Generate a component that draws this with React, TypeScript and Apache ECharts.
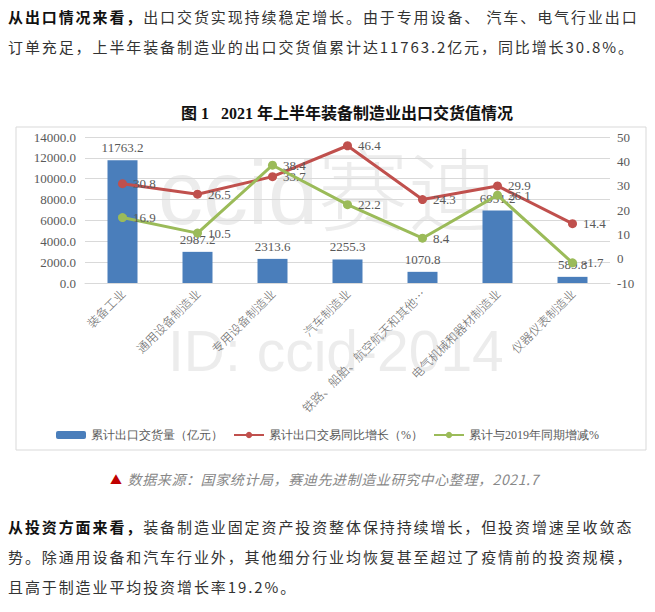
import React, { useEffect, useRef } from "react";
import * as echarts from "echarts";

const categories = [
  "装备工业",
  "通用设备制造业",
  "专用设备制造业",
  "汽车制造业",
  "铁路、船舶、航空航天和其他…",
  "电气机械和器材制造业",
  "仪器仪表制造业",
];
const exportValue = [11763.2, 2987.2, 2313.6, 2255.3, 1070.8, 6951.2, 589.8];
const yoyGrowth = [30.8, 26.5, 33.7, 46.4, 24.3, 29.9, 14.4];
const vs2019 = [16.9, 10.5, 38.4, 22.2, 8.4, 26.1, -1.7];
const seriesNames = ["累计出口交货量（亿元）", "累计出口交易同比增长（%）", "累计与2019年同期增减%"];

const numFont = "'Liberation Serif', 'DejaVu Serif', serif";
const cjkFont = "'Noto Sans CJK SC', 'Noto Sans', sans-serif";

export default function App() {
  const ref = useRef<HTMLDivElement>(null);
  useEffect(() => {
    if (!ref.current) return;
    const chart = echarts.init(ref.current, undefined, { renderer: "svg" });
    const labelStyle = { color: "#595959", fontSize: 13, fontFamily: numFont };
    chart.setOption({
      animation: false,
      backgroundColor: "transparent",
      grid: { left: 85, right: 45, top: 137, bottom: 329, containLabel: false },
      graphic: [
        {
          type: "rect",
          shape: { x: 16, y: 127, width: 630, height: 323 },
          style: { fill: "none", stroke: "#d9d9d9", lineWidth: 1 },
          silent: true,
        },
        {
          type: "text",
          x: 347,
          y: 113,
          style: {
            text: "图 1   2021 年上半年装备制造业出口交货值情况",
            fontSize: 16,
            fontWeight: "bold",
            fontFamily: "'Liberation Serif', 'Noto Sans CJK SC', serif",
            fill: "#111",
            align: "center",
            verticalAlign: "middle",
          },
        },
        {
          type: "text",
          x: 158,
          y: 193,
          z: -1,
          style: {
            text: "ccid赛迪",
            fontSize: 90,
            fontWeight: 300,
            fontFamily: "'Liberation Sans', 'Noto Sans CJK SC', sans-serif",
            fill: "rgba(160,160,160,0.2)",
            align: "left",
            verticalAlign: "middle",
          },
          silent: true,
        },
        {
          type: "text",
          x: 168,
          y: 351,
          z: -1,
          style: {
            text: "ID: ccid-2014",
            fontSize: 57,
            fontWeight: 300,
            fontFamily: "'Liberation Sans', sans-serif",
            fill: "rgba(160,160,160,0.2)",
            align: "left",
            verticalAlign: "middle",
          },
          silent: true,
        },
      ],
      legend: {
        data: seriesNames,
        left: "center",
        top: 424,
        itemWidth: 30,
        itemHeight: 8,
        itemGap: 10,
        textStyle: { color: "#595959", fontSize: 12, fontFamily: numFont },
      },
      xAxis: {
        type: "category",
        data: categories,
        axisLine: { lineStyle: { color: "#d9d9d9" } },
        axisTick: { show: false },
        axisLabel: {
          rotate: 45,
          interval: 0,
          margin: 8,
          color: "#666",
          fontSize: 12,
          fontWeight: 300,
          fontFamily: cjkFont,
        },
      },
      yAxis: [
        {
          type: "value",
          min: 0,
          max: 14000,
          interval: 2000,
          axisLine: { show: false },
          axisTick: { show: false },
          splitLine: { lineStyle: { color: "#d9d9d9" } },
          axisLabel: {
            margin: 9,
            color: "#595959",
            fontSize: 13,
            fontFamily: numFont,
            formatter: (v: number) => v.toFixed(1),
          },
        },
        {
          type: "value",
          min: -10,
          max: 50,
          interval: 10,
          axisLine: { show: false },
          axisTick: { show: false },
          splitLine: { show: false },
          axisLabel: { margin: 7, color: "#595959", fontSize: 13, fontFamily: numFont },
        },
      ],
      series: [
        {
          name: seriesNames[0],
          type: "bar",
          data: exportValue,
          barWidth: 30,
          itemStyle: { color: "#4a7ebb" },
          label: { show: true, position: "top", distance: 6, ...labelStyle },
          z: 2,
        },
        {
          name: seriesNames[1],
          type: "line",
          yAxisIndex: 1,
          data: yoyGrowth,
          symbol: "circle",
          symbolSize: 9,
          lineStyle: { color: "#c0504d", width: 3 },
          itemStyle: { color: "#c0504d" },
          label: { show: true, position: "right", distance: 6, ...labelStyle },
          z: 3,
        },
        {
          name: seriesNames[2],
          type: "line",
          yAxisIndex: 1,
          data: vs2019,
          symbol: "circle",
          symbolSize: 9,
          lineStyle: { color: "#9bbb59", width: 3 },
          itemStyle: { color: "#9bbb59" },
          label: { show: true, position: "right", distance: 6, ...labelStyle },
          z: 4,
        },
      ],
    });
    return () => chart.dispose();
  }, []);

  const pStyle: React.CSSProperties = {
    position: "absolute",
    left: 8,
    margin: 0,
    whiteSpace: "nowrap",
    fontFamily: cjkFont,
    fontSize: 15,
    letterSpacing: "1.9px",
    color: "#333",
    lineHeight: "20px",
  };
  const b: React.CSSProperties = { fontWeight: "bold", color: "#111" };

  return (
    <div style={{ position: "absolute", left: 0, top: 0, width: 655, height: 612, background: "#fff", overflow: "hidden" }}>
      <div ref={ref} style={{ position: "absolute", left: 0, top: 0, width: 655, height: 612 }} />
      <p style={{ ...pStyle, top: 7 }}>
        <span style={b}>从出口情况来看，</span>出口交货实现持续稳定增长。由于专用设备、 汽车、电气行业出口
      </p>
      <p style={{ ...pStyle, top: 37 }}>订单充足，上半年装备制造业的出口交货值累计达11763.2亿元，同比增长30.8%。</p>
      <p
        style={{
          position: "absolute",
          left: 110,
          top: 469,
          margin: 0,
          whiteSpace: "nowrap",
          fontFamily: cjkFont,
          fontSize: 14,
          letterSpacing: "0.6px",
          lineHeight: "20px",
          color: "#888",
        }}
      >
        <span style={{ color: "#c00000", fontSize: 12, marginRight: 5 }}>▲</span>
        <span style={{ fontStyle: "italic" }}>数据来源：国家统计局，赛迪先进制造业研究中心整理，2021.7</span>
      </p>
      <p style={{ ...pStyle, top: 517 }}>
        <span style={b}>从投资方面来看，</span>装备制造业固定资产投资整体保持持续增长，但投资增速呈收敛态
      </p>
      <p style={{ ...pStyle, top: 547 }}>势。除通用设备和汽车行业外，其他细分行业均恢复甚至超过了疫情前的投资规模，</p>
      <p style={{ ...pStyle, top: 577 }}>且高于制造业平均投资增长率19.2%。</p>
    </div>
  );
}
